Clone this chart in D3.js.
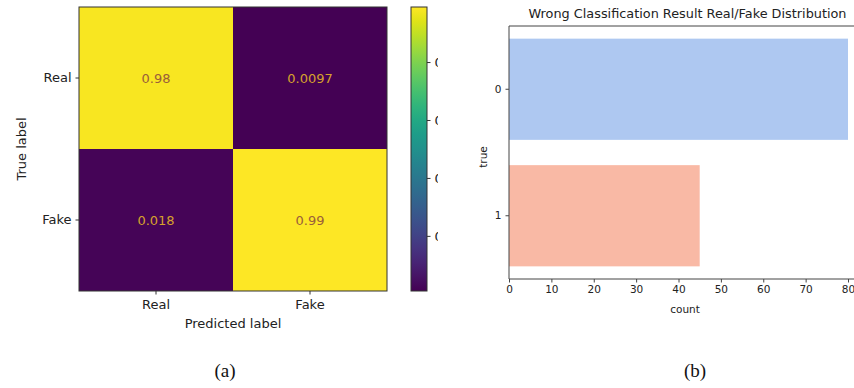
<!DOCTYPE html>
<html>
<head>
<meta charset="utf-8">
<script src="https://cdn.jsdelivr.net/npm/d3@7"></script>
<style>
  html, body { margin: 0; padding: 0; background: #fff; }
  svg { display: block; font-family: "DejaVu Sans", sans-serif; }
</style>
</head>
<body>
<svg id="chart" width="854" height="388"></svg>
<script>
// (a) normalized confusion matrix
const classLabels = ["Real", "Fake"];
const matrixRows = [
  [0.98, 0.0097],
  [0.018, 0.99]
];
const colorbarTicks = [0.2, 0.4, 0.6, 0.8];

// (b) counts of misclassified samples by true class
const trueClasses = ["0", "1"];
const wrongCounts = [80, 45];
const barColors = ["#aec8f1", "#f9b9a5"];
const countTicks = [0, 10, 20, 30, 40, 50, 60, 70, 80];

const svg = d3.select("#chart");

// ---------- panel (a) ----------
const cm = { left: 79, right: 387, top: 7, bottom: 291 };
const cx = d3.scaleBand().domain(classLabels).range([cm.left, cm.right]);
const cy = d3.scaleBand().domain(classLabels).range([cm.top, cm.bottom]);
const allVals = matrixRows.flat();
const vmin = d3.min(allVals), vmax = d3.max(allVals);
const viridis = d3.scaleSequential(d3.interpolateViridis).domain([vmin, vmax]);

const cells = [];
matrixRows.forEach((row, i) => row.forEach((v, j) => cells.push({ r: classLabels[i], c: classLabels[j], v })));

const gA = svg.append("g");
gA.selectAll("rect.cell").data(cells).join("rect")
  .attr("class", "cell")
  .attr("x", d => cx(d.c)).attr("y", d => cy(d.r))
  .attr("width", cx.bandwidth()).attr("height", cy.bandwidth())
  .attr("fill", d => viridis(d.v));

gA.selectAll("text.val").data(cells).join("text")
  .attr("class", "val")
  .attr("x", d => cx(d.c) + cx.bandwidth() / 2)
  .attr("y", d => cy(d.r) + cy.bandwidth() / 2)
  .attr("text-anchor", "middle").attr("dominant-baseline", "central")
  .attr("font-size", 13)
  .attr("fill", d => d.v > (vmin + vmax) / 2 ? "#9a5e3a" : "#d6a22c")
  .text(d => String(d.v));

gA.append("rect")
  .attr("x", cm.left).attr("y", cm.top)
  .attr("width", cm.right - cm.left).attr("height", cm.bottom - cm.top)
  .attr("fill", "none").attr("stroke", "#333").attr("stroke-width", 1);

const axLeftA = gA.append("g").attr("transform", `translate(${cm.left},0)`)
  .call(d3.axisLeft(cy).tickSize(3.5).tickPadding(4));
const axBotA = gA.append("g").attr("transform", `translate(0,${cm.bottom})`)
  .call(d3.axisBottom(cx).tickSize(3.5).tickPadding(5));
[axLeftA, axBotA].forEach(a => {
  a.select(".domain").remove();
  a.selectAll("text").attr("font-size", 13).attr("fill", "#222").attr("font-family", "DejaVu Sans");
  a.selectAll("line").attr("stroke", "#333");
});

gA.append("text")
  .attr("x", (cm.left + cm.right) / 2).attr("y", 328)
  .attr("text-anchor", "middle").attr("font-size", 13).attr("fill", "#222")
  .text("Predicted label");
gA.append("text")
  .attr("transform", `translate(26,${(cm.top + cm.bottom) / 2}) rotate(-90)`)
  .attr("text-anchor", "middle").attr("font-size", 13).attr("fill", "#222")
  .text("True label");

// colour bar
const cb = { left: 411, right: 427 };
const cbY = d3.scaleLinear().domain([vmin, vmax]).range([cm.bottom, cm.top]);
const defs = svg.append("defs");
const grad = defs.append("linearGradient").attr("id", "viridisGrad")
  .attr("x1", 0).attr("y1", 1).attr("x2", 0).attr("y2", 0);
d3.range(0, 1.0001, 0.05).forEach(t => {
  grad.append("stop").attr("offset", t).attr("stop-color", d3.interpolateViridis(t));
});
gA.append("rect")
  .attr("x", cb.left).attr("y", cbY(vmax))
  .attr("width", cb.right - cb.left).attr("height", cbY(vmin) - cbY(vmax))
  .attr("fill", "url(#viridisGrad)").attr("stroke", "#333").attr("stroke-width", 1);

defs.append("clipPath").attr("id", "cbClip")
  .append("rect").attr("x", cb.right).attr("y", 0).attr("width", 11).attr("height", 388);
const axCb = gA.append("g").attr("clip-path", "url(#cbClip)")
  .append("g").attr("transform", `translate(${cb.right},0)`)
  .call(d3.axisRight(cbY).tickValues(colorbarTicks).tickFormat(d3.format(".1f")).tickSize(3.5).tickPadding(4));
axCb.select(".domain").remove();
axCb.selectAll("text").attr("font-size", 13).attr("fill", "#222").attr("font-family", "DejaVu Sans");
axCb.selectAll("line").attr("stroke", "#333");

gA.append("text")
  .attr("x", 225).attr("y", 377)
  .attr("text-anchor", "middle")
  .attr("font-family", "Liberation Serif, serif").attr("font-size", 19).attr("fill", "#111")
  .text("(a)");

// ---------- panel (b) ----------
const bm = { left: 509, right: 848, top: 26, bottom: 279 };
const bx = d3.scaleLinear().domain([0, 80]).range([bm.left, bm.right]);
const by = d3.scaleBand().domain(trueClasses).range([bm.top, bm.bottom]).paddingInner(0.2).paddingOuter(0.1);
const barData = trueClasses.map((c, i) => ({ c, n: wrongCounts[i], color: barColors[i] }));

const gB = svg.append("g");
gB.selectAll("rect.bar").data(barData).join("rect")
  .attr("class", "bar")
  .attr("x", bx(0)).attr("y", d => by(d.c))
  .attr("width", d => bx(d.n) - bx(0)).attr("height", by.bandwidth())
  .attr("fill", d => d.color);

// frame: top, left and bottom spines (right edge falls off the canvas)
gB.append("path")
  .attr("d", `M${bm.right + 20},${bm.top}H${bm.left}V${bm.bottom}H${bm.right + 20}`)
  .attr("fill", "none").attr("stroke", "#444").attr("stroke-width", 1);

const axLeftB = gB.append("g").attr("transform", `translate(${bm.left},0)`)
  .call(d3.axisLeft(by).tickSize(3.5).tickPadding(4));
const axBotB = gB.append("g").attr("transform", `translate(0,${bm.bottom})`)
  .call(d3.axisBottom(bx).tickValues(countTicks).tickSize(3.5).tickPadding(3));
[axLeftB, axBotB].forEach(a => {
  a.select(".domain").remove();
  a.selectAll("text").attr("font-size", 10.5).attr("fill", "#222").attr("font-family", "DejaVu Sans");
  a.selectAll("line").attr("stroke", "#444");
});

gB.append("text")
  .attr("x", (bm.left + bm.right) / 2 + 9).attr("y", 18)
  .attr("text-anchor", "middle").attr("font-size", 11.5).attr("fill", "#222")
  .attr("textLength", 318).attr("lengthAdjust", "spacingAndGlyphs")
  .text("Wrong Classification Result Real/Fake Distribution");
gB.append("text")
  .attr("x", 685).attr("y", 313)
  .attr("text-anchor", "middle").attr("font-size", 10.5).attr("fill", "#222")
  .text("count");
gB.append("text")
  .attr("transform", `translate(487,157) rotate(-90)`)
  .attr("text-anchor", "middle").attr("font-size", 10.5).attr("fill", "#222")
  .text("true");

gB.append("text")
  .attr("x", 695).attr("y", 377)
  .attr("text-anchor", "middle")
  .attr("font-family", "Liberation Serif, serif").attr("font-size", 19).attr("fill", "#111")
  .text("(b)");
</script>
</body>
</html>
